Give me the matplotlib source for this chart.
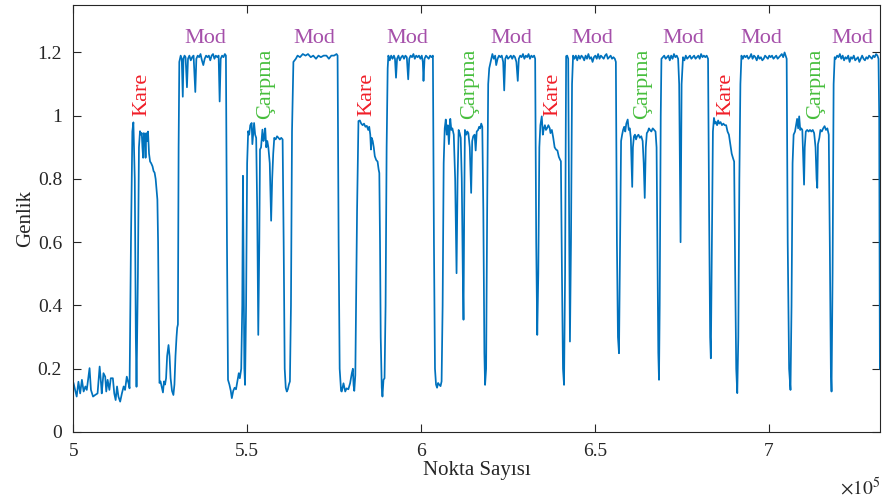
import numpy as np
import matplotlib.pyplot as plt

plt.rcParams['font.family'] = ['Liberation Serif', 'DejaVu Serif']
plt.rcParams['mathtext.fontset'] = 'stix'

# sample index (x1e5) and amplitude, one block per region of the signal
base_x = [5.001, 5.010, 5.015, 5.020, 5.025, 5.030, 5.035, 5.039, 5.044, 5.047,
          5.051, 5.057, 5.063, 5.070, 5.076, 5.080, 5.082, 5.087, 5.092, 5.095,
          5.099, 5.104, 5.108, 5.114, 5.118, 5.122, 5.126, 5.130, 5.135, 5.140,
          5.145, 5.149, 5.154, 5.159, 5.162]
base_y = [0.154, 0.112, 0.159, 0.122, 0.165, 0.128, 0.144, 0.133, 0.175, 0.202,
          0.133, 0.112, 0.117, 0.122, 0.207, 0.154, 0.122, 0.186, 0.175, 0.128,
          0.165, 0.133, 0.170, 0.170, 0.122, 0.101, 0.144, 0.112, 0.096, 0.122,
          0.144, 0.133, 0.175, 0.154, 0.138]

kare1_x = [5.166, 5.170, 5.173, 5.177, 5.180, 5.182, 5.186, 5.189, 5.192, 5.195,
           5.197, 5.199, 5.201, 5.203, 5.206, 5.208, 5.210, 5.213, 5.215, 5.218,
           5.221, 5.224, 5.228, 5.231, 5.234, 5.237, 5.240, 5.242, 5.244, 5.246,
           5.248, 5.251, 5.255, 5.258, 5.261, 5.264, 5.267, 5.270, 5.274, 5.277,
           5.280, 5.284, 5.288, 5.291, 5.294, 5.297, 5.299]
kare1_y = [0.60, 0.95, 0.979, 0.80, 0.30, 0.143, 0.50, 0.90, 0.951, 0.94,
           0.945, 0.90, 0.867, 0.945, 0.94, 0.867, 0.945, 0.92, 0.95, 0.88,
           0.855, 0.85, 0.84, 0.825, 0.82, 0.80, 0.76, 0.735, 0.60, 0.35,
           0.155, 0.16, 0.14, 0.125, 0.16, 0.15, 0.17, 0.24, 0.275, 0.24,
           0.17, 0.13, 0.117, 0.15, 0.24, 0.30, 0.33]

mod1_x = [5.301, 5.303, 5.305, 5.309, 5.312, 5.315, 5.317, 5.320, 5.323, 5.327,
          5.330, 5.334, 5.338, 5.342, 5.346, 5.351, 5.354, 5.358, 5.362, 5.366,
          5.370, 5.374, 5.378, 5.382, 5.386, 5.390, 5.394, 5.398, 5.402, 5.406,
          5.410, 5.414, 5.418, 5.421, 5.424, 5.428, 5.432, 5.436, 5.439, 5.442,
          5.445]
mod1_y = [0.34, 0.90, 1.17, 1.19, 1.18, 1.06, 1.18, 1.19, 1.185, 1.09,
          1.18, 1.19, 1.175, 1.185, 1.19, 1.075, 1.18, 1.19, 1.185, 1.195,
          1.175, 1.16, 1.18, 1.19, 1.185, 1.19, 1.175, 1.19, 1.195, 1.18,
          1.19, 1.185, 1.19, 1.045, 1.18, 1.19, 1.185, 1.195, 1.19, 0.60,
          0.165]

carp1_x = [5.449, 5.453, 5.456, 5.460, 5.464, 5.468, 5.472, 5.476, 5.479, 5.483,
           5.486, 5.488, 5.490, 5.492, 5.494, 5.497, 5.500, 5.503, 5.506, 5.509,
           5.513, 5.515, 5.518, 5.520, 5.523, 5.526, 5.529, 5.532, 5.535, 5.537,
           5.540, 5.544, 5.547, 5.550, 5.552, 5.555, 5.558, 5.561, 5.565, 5.569,
           5.572, 5.575, 5.578, 5.582, 5.586, 5.590, 5.594, 5.598, 5.602, 5.605,
           5.608, 5.611, 5.614, 5.617, 5.620, 5.623, 5.626, 5.629]
carp1_y = [0.15, 0.13, 0.107, 0.13, 0.14, 0.135, 0.16, 0.186, 0.17, 0.20,
           0.40, 0.81, 0.50, 0.20, 0.149, 0.40, 0.85, 0.951, 0.94, 0.97,
           0.977, 0.91, 0.95, 0.977, 0.94, 0.93, 0.70, 0.307, 0.60, 0.893,
           0.90, 0.956, 0.92, 0.94, 0.96, 0.90, 0.92, 0.90, 0.85, 0.668,
           0.80, 0.88, 0.93, 0.925, 0.935, 0.93, 0.925, 0.93, 0.925, 0.60,
           0.20, 0.14, 0.128, 0.135, 0.15, 0.16, 0.40, 0.95]

mod2_x = [5.633, 5.640, 5.645, 5.652, 5.660, 5.668, 5.675, 5.683, 5.690, 5.698,
          5.705, 5.712, 5.720, 5.728, 5.735, 5.742, 5.750, 5.757, 5.760, 5.763,
          5.766, 5.770, 5.772, 5.777, 5.782, 5.786, 5.791, 5.796, 5.801, 5.804,
          5.806, 5.808, 5.811, 5.816]
mod2_y = [1.17, 1.18, 1.19, 1.185, 1.195, 1.19, 1.195, 1.185, 1.19, 1.18,
          1.19, 1.185, 1.19, 1.19, 1.18, 1.19, 1.19, 1.195, 1.19, 0.60,
          0.20, 0.13, 0.128, 0.154, 0.128, 0.138, 0.135, 0.154, 0.186, 0.20,
          0.148, 0.13, 0.18, 0.70]

kare2_x = [5.820, 5.824, 5.828, 5.832, 5.836, 5.840, 5.844, 5.848, 5.851, 5.854,
           5.856, 5.858, 5.861, 5.864, 5.867, 5.871, 5.875, 5.878, 5.880, 5.882,
           5.884, 5.887, 5.889, 5.892, 5.895, 5.898, 5.901, 5.904]
kare2_y = [0.983, 0.985, 0.975, 0.97, 0.975, 0.965, 0.968, 0.955, 0.965, 0.94,
           0.893, 0.93, 0.92, 0.90, 0.872, 0.86, 0.855, 0.83, 0.819, 0.60,
           0.30, 0.14, 0.112, 0.165, 0.17, 0.40, 0.90, 1.15]

mod3_x = [5.906, 5.910, 5.914, 5.918, 5.922, 5.925, 5.928, 5.931, 5.935, 5.939,
          5.943, 5.947, 5.951, 5.955, 5.959, 5.963, 5.966, 5.970, 5.974, 5.978,
          5.982, 5.986, 5.990, 5.994, 5.998, 6.002, 6.005, 6.007, 6.010, 6.014,
          6.018, 6.022, 6.026, 6.030, 6.034, 6.037, 6.040, 6.043, 6.046, 6.049,
          6.052, 6.056, 6.059, 6.062, 6.065]
mod3_y = [1.19, 1.175, 1.19, 1.18, 1.19, 1.18, 1.12, 1.18, 1.19, 1.175,
          1.185, 1.19, 1.18, 1.19, 1.185, 1.115, 1.18, 1.19, 1.185, 1.195,
          1.18, 1.19, 1.185, 1.19, 1.18, 1.19, 1.17, 1.11, 1.18, 1.19,
          1.185, 1.18, 1.19, 1.185, 1.19, 0.60, 0.20, 0.15, 0.14, 0.155,
          0.15, 0.145, 0.16, 0.40, 0.85]

carp2_x = [6.068, 6.071, 6.074, 6.077, 6.080, 6.084, 6.087, 6.090, 6.094, 6.098,
           6.102, 6.105, 6.108, 6.111, 6.114, 6.117, 6.120, 6.122, 6.124, 6.126,
           6.130, 6.133, 6.136, 6.140, 6.144, 6.147, 6.150, 6.154, 6.157, 6.160,
           6.164, 6.167, 6.170, 6.173, 6.176, 6.179, 6.182, 6.184, 6.187, 6.190,
           6.193]
carp2_y = [0.96, 0.988, 0.94, 0.97, 0.91, 0.99, 0.955, 0.96, 0.94, 0.80,
           0.502, 0.80, 0.955, 0.945, 0.93, 0.80, 0.50, 0.355, 0.70, 0.955,
           0.94, 0.95, 0.945, 0.90, 0.756, 0.92, 0.935, 0.94, 0.89, 0.95,
           0.955, 0.965, 0.96, 0.975, 0.965, 0.70, 0.25, 0.149, 0.20, 0.70,
           1.10]

mod4_x = [6.196, 6.200, 6.205, 6.209, 6.213, 6.216, 6.220, 6.224, 6.228, 6.232,
          6.236, 6.239, 6.242, 6.246, 6.250, 6.254, 6.258, 6.262, 6.266, 6.270,
          6.274, 6.278, 6.281, 6.285, 6.289, 6.293, 6.297, 6.301, 6.305, 6.309,
          6.313, 6.317, 6.321, 6.325, 6.328, 6.331, 6.334, 6.337, 6.340, 6.343]
mod4_y = [1.15, 1.17, 1.195, 1.18, 1.19, 1.16, 1.18, 1.19, 1.185, 1.19,
          1.17, 1.08, 1.18, 1.19, 1.18, 1.185, 1.19, 1.18, 1.19, 1.185,
          1.17, 1.11, 1.18, 1.19, 1.185, 1.195, 1.18, 1.19, 1.185, 1.195,
          1.18, 1.19, 1.185, 1.19, 1.18, 0.60, 0.307, 0.50, 0.90, 0.97]

kare3_x = [6.347, 6.350, 6.353, 6.356, 6.359, 6.362, 6.366, 6.370, 6.372, 6.376,
           6.380, 6.384, 6.388, 6.392, 6.396, 6.400, 6.402, 6.405, 6.408, 6.411,
           6.414, 6.417, 6.420, 6.423, 6.426, 6.428, 6.431, 6.434]
kare3_y = [0.998, 0.94, 0.96, 0.97, 0.955, 0.96, 0.97, 0.96, 0.945, 0.955,
           0.93, 0.90, 0.893, 0.89, 0.87, 0.86, 0.856, 0.50, 0.20, 0.149,
           0.50, 1.188, 1.19, 1.18, 0.60, 0.286, 0.60, 1.10]

mod5_x = [6.437, 6.441, 6.445, 6.449, 6.453, 6.457, 6.461, 6.465, 6.469, 6.473,
          6.477, 6.481, 6.485, 6.489, 6.493, 6.497, 6.501, 6.505, 6.509, 6.513,
          6.517, 6.521, 6.525, 6.529, 6.533, 6.537, 6.541, 6.545, 6.549, 6.553,
          6.557, 6.560, 6.563, 6.566, 6.569, 6.572, 6.575]
mod5_y = [1.19, 1.18, 1.19, 1.175, 1.19, 1.18, 1.19, 1.185, 1.175, 1.19,
          1.18, 1.195, 1.18, 1.185, 1.17, 1.185, 1.19, 1.18, 1.195, 1.18,
          1.19, 1.185, 1.18, 1.19, 1.195, 1.18, 1.185, 1.19, 1.18, 1.185,
          1.18, 1.17, 0.60, 0.30, 0.249, 0.60, 0.92]

carp3_x = [6.578, 6.581, 6.584, 6.587, 6.590, 6.594, 6.597, 6.600, 6.603, 6.605,
           6.607, 6.609, 6.612, 6.615, 6.618, 6.621, 6.625, 6.629, 6.633, 6.637,
           6.640, 6.643, 6.646, 6.649, 6.652, 6.655, 6.658, 6.662, 6.666, 6.670,
           6.674, 6.677, 6.680, 6.682, 6.684, 6.686, 6.689]
carp3_y = [0.94, 0.956, 0.965, 0.95, 0.975, 0.988, 0.955, 0.96, 0.93, 0.85,
           0.775, 0.90, 0.935, 0.94, 0.925, 0.935, 0.94, 0.93, 0.935, 0.92,
           0.85, 0.74, 0.90, 0.945, 0.95, 0.96, 0.955, 0.95, 0.96, 0.955,
           0.95, 0.90, 0.50, 0.25, 0.165, 0.40, 1.00]

mod6_x = [6.691, 6.695, 6.699, 6.703, 6.707, 6.711, 6.715, 6.719, 6.723, 6.727,
          6.731, 6.735, 6.739, 6.742, 6.746, 6.749, 6.753, 6.757, 6.761, 6.765,
          6.769, 6.773, 6.777, 6.781, 6.785, 6.789, 6.793, 6.797, 6.801, 6.805,
          6.809, 6.813, 6.817, 6.821, 6.825, 6.828, 6.831, 6.833, 6.836, 6.839]
mod6_y = [1.18, 1.185, 1.19, 1.18, 1.185, 1.19, 1.175, 1.19, 1.18, 1.195,
          1.185, 1.19, 1.18, 1.10, 0.60, 1.10, 1.185, 1.175, 1.19, 1.18,
          1.185, 1.19, 1.18, 1.185, 1.19, 1.18, 1.185, 1.19, 1.18, 1.195,
          1.185, 1.19, 1.185, 1.19, 1.18, 0.70, 0.30, 0.233, 0.60, 0.95]

kare4_x = [6.842, 6.845, 6.848, 6.851, 6.854, 6.857, 6.861, 6.865, 6.869, 6.873,
           6.877, 6.881, 6.885, 6.889, 6.893, 6.897, 6.900, 6.903, 6.906, 6.909,
           6.912, 6.915, 6.918]
kare4_y = [0.993, 0.975, 0.98, 0.97, 0.985, 0.975, 0.98, 0.97, 0.975, 0.97,
           0.97, 0.95, 0.94, 0.91, 0.88, 0.865, 0.855, 0.50, 0.20, 0.123,
           0.30, 0.80, 1.10]

mod7_x = [6.921, 6.925, 6.929, 6.933, 6.937, 6.941, 6.945, 6.949, 6.953, 6.957,
          6.961, 6.965, 6.969, 6.973, 6.977, 6.981, 6.985, 6.989, 6.993, 6.997,
          7.001, 7.005, 7.009, 7.013, 7.017, 7.021, 7.025, 7.029, 7.033, 7.037,
          7.041, 7.045, 7.048, 7.051, 7.054, 7.058, 7.062, 7.065, 7.068]
mod7_y = [1.19, 1.18, 1.19, 1.185, 1.19, 1.18, 1.185, 1.195, 1.18, 1.19,
          1.185, 1.175, 1.19, 1.18, 1.185, 1.175, 1.18, 1.19, 1.185, 1.18,
          1.19, 1.185, 1.19, 1.18, 1.185, 1.19, 1.18, 1.185, 1.19, 1.195,
          1.185, 1.20, 1.19, 1.18, 0.60, 0.20, 0.133, 0.40, 0.85]

carp4_x = [7.071, 7.075, 7.078, 7.081, 7.084, 7.087, 7.090, 7.093, 7.096, 7.099,
           7.101, 7.103, 7.106, 7.110, 7.114, 7.118, 7.122, 7.126, 7.130, 7.134,
           7.137, 7.139, 7.141, 7.145, 7.148, 7.152, 7.156, 7.160, 7.164, 7.168,
           7.172, 7.175, 7.178, 7.180, 7.183, 7.186]
carp4_y = [0.94, 0.95, 0.97, 0.99, 0.96, 0.998, 0.955, 0.96, 0.955, 0.85,
           0.782, 0.90, 0.95, 0.955, 0.95, 0.955, 0.95, 0.955, 0.945, 0.90,
           0.80, 0.772, 0.91, 0.93, 0.955, 0.95, 0.96, 0.967, 0.955, 0.96,
           0.94, 0.60, 0.20, 0.128, 0.50, 1.10]

mod8_x = [7.189, 7.192, 7.196, 7.200, 7.204, 7.208, 7.212, 7.216, 7.220, 7.224,
          7.228, 7.232, 7.236, 7.240, 7.244, 7.248, 7.252, 7.256, 7.260, 7.264,
          7.268, 7.272, 7.276, 7.280, 7.284, 7.288, 7.292, 7.296, 7.300, 7.304,
          7.308, 7.312, 7.315, 7.317, 7.319]
mod8_y = [1.185, 1.18, 1.19, 1.185, 1.195, 1.18, 1.19, 1.175, 1.185, 1.18,
          1.19, 1.17, 1.185, 1.18, 1.19, 1.175, 1.18, 1.185, 1.17, 1.18,
          1.19, 1.18, 1.175, 1.185, 1.18, 1.19, 1.185, 1.18, 1.19, 1.185,
          1.195, 1.19, 1.18, 1.00, 0.20]

# annotation positions (x1e5)
mod_pos = [5.379, 5.693, 5.961, 6.259, 6.491, 6.753, 6.977, 7.241]
kare_pos = [5.198, 5.844, 6.380, 6.876]
carp_pos = [5.554, 6.141, 6.638, 7.135]

x = np.concatenate([base_x, kare1_x, mod1_x, carp1_x, mod2_x, kare2_x, mod3_x,
                    carp2_x, mod4_x, kare3_x, mod5_x, carp3_x, mod6_x, kare4_x,
                    mod7_x, carp4_x, mod8_x]) * 1e5
y = np.concatenate([base_y, kare1_y, mod1_y, carp1_y, mod2_y, kare2_y, mod3_y,
                    carp2_y, mod4_y, kare3_y, mod5_y, carp3_y, mod6_y, kare4_y,
                    mod7_y, carp4_y, mod8_y])

fig = plt.figure(figsize=(8.82, 5), dpi=100)
ax = fig.add_axes([0.083, 0.136, 0.915, 0.854])
ax.plot(x, y, color='#0072BD', lw=1.25)

for p in mod_pos:
    ax.text(p * 1e5, 1.245, 'Mod', color='#A550AA', fontsize=16,
            ha='center', va='center')
for p in kare_pos:
    ax.text(p * 1e5, 1.068, 'Kare', color='#F01E28', fontsize=16,
            rotation=90, ha='center', va='center')
for p in carp_pos:
    ax.text(p * 1e5, 1.100, 'Çarpma', color='#46BE3C', fontsize=16,
            rotation=90, ha='center', va='center')

ax.set_xlim(5e5, 7.32e5)
ax.set_ylim(0, 1.35)
ax.set_xticks([5e5, 5.5e5, 6e5, 6.5e5, 7e5])
ax.set_xticklabels(['5', '5.5', '6', '6.5', '7'])
ax.set_yticks([0, 0.2, 0.4, 0.6, 0.8, 1.0, 1.2])
ax.set_yticklabels(['0', '0.2', '0.4', '0.6', '0.8', '1', '1.2'])
ax.tick_params(direction='in', length=6, width=0.8, labelsize=14,
               top=True, right=True, colors='#262626', pad=8)
for s in ax.spines.values():
    s.set_color('#262626')
    s.set_linewidth(0.8)

ax.set_xlabel('Nokta Sayısı', fontsize=15, color='#262626', labelpad=1)
ax.set_ylabel('Genlik', fontsize=15, color='#262626', labelpad=2)
ax.text(1.0, -0.13, r'$\times10^{5}$', transform=ax.transAxes, fontsize=14,
        ha='right', va='center', color='#262626')

fig.savefig('out.png', dpi=100)
